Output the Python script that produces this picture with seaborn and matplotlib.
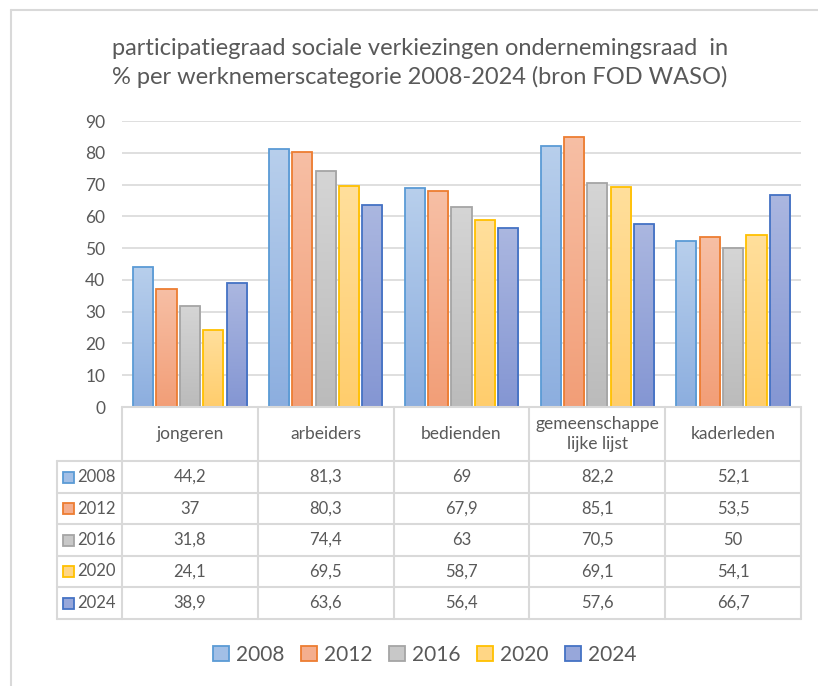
import numpy as np
import pandas as pd
import matplotlib
matplotlib.use("Agg")
import matplotlib.pyplot as plt
import seaborn as sns
from matplotlib.patches import Patch, Rectangle
from matplotlib.colors import LinearSegmentedColormap

# ---------------- data ----------------
categories = ["jongeren", "arbeiders", "bedienden", "gemeenschappelijke lijst", "kaderleden"]
cat_labels = ["jongeren", "arbeiders", "bedienden", "gemeenschappe\nlijke lijst", "kaderleden"]
years = ["2008", "2012", "2016", "2020", "2024"]
v2008 = [44.2, 81.3, 69, 82.2, 52.1]
v2012 = [37, 80.3, 67.9, 85.1, 53.5]
v2016 = [31.8, 74.4, 63, 70.5, 50]
v2020 = [24.1, 69.5, 58.7, 69.1, 54.1]
v2024 = [38.9, 63.6, 56.4, 57.6, 66.7]
series = [v2008, v2012, v2016, v2020, v2024]
yticks = [0, 10, 20, 30, 40, 50, 60, 70, 80, 90]
title = "participatiegraad sociale verkiezingen ondernemingsraad  in\n% per werknemerscategorie 2008-2024 (bron FOD WASO)"

df = pd.DataFrame({
    "categorie": [c for s in series for c in categories],
    "jaar": [y for y, s in zip(years, series) for _ in categories],
    "waarde": [v for s in series for v in s],
})

# ---------------- style ----------------
edge_c = ["#5B9BD5", "#ED7D31", "#A5A5A5", "#FFC000", "#4472C4"]
top_c = ["#B8CFEC", "#F7BFA5", "#D5D5D5", "#FFDF9C", "#ABB7E0"]
bot_c = ["#8CAEDF", "#F29E77", "#BBBBBB", "#FFCD6C", "#8496D3"]
mid_c = ["#A2BFE6", "#F4AE8E", "#C8C8C8", "#FFD685", "#97A7DA"]
txt = "#595959"
grid_c = "#D9D9D9"
FONT = "Lato"

sns.set_theme(style="white")
plt.rcParams["font.family"] = [FONT, "DejaVu Sans"]

W, H = 818, 686
fig = plt.figure(figsize=(W / 100, H / 100), dpi=100)

AX_L, AX_R, AX_T, AX_B = 122, 801, 121, 407
ax = fig.add_axes([AX_L / W, 1 - AX_B / H, (AX_R - AX_L) / W, (AX_B - AX_T) / H])

sns.barplot(data=df, x="categorie", y="waarde", hue="jaar", hue_order=years,
            order=categories, palette=mid_c, width=0.86, gap=0.14,
            errorbar=None, linewidth=1.3, legend=False, ax=ax)

ax.set_xlim(-0.5, len(categories) - 0.5)
ax.set_ylim(0, 90)

# gradient fill for bars
for i, cont in enumerate(ax.containers):
    cmap = LinearSegmentedColormap.from_list(f"g{i}", [bot_c[i], top_c[i]])
    grad = np.linspace(0, 1, 256).reshape(-1, 1)
    for bar in cont:
        x0, y0 = bar.get_x(), bar.get_y()
        w, h = bar.get_width(), bar.get_height()
        im = ax.imshow(grad, extent=[x0, x0 + w, y0, y0 + h], origin="lower",
                       aspect="auto", cmap=cmap, zorder=2, interpolation="bilinear")
        im.set_clip_path(bar)
        bar.set_facecolor("none")
        bar.set_edgecolor(edge_c[i])
        bar.set_zorder(3)

ax.set_xlim(-0.5, len(categories) - 0.5)
ax.set_ylim(0, 90)
ax.set_aspect("auto")
ax.set_yticks(yticks)
ax.set_yticklabels([str(t) for t in yticks], color=txt, fontsize=12.5)
ax.tick_params(axis="y", length=0, pad=12)
ax.set_xticks([])
ax.set_xlabel("")
ax.set_ylabel("")
ax.yaxis.grid(True, color=grid_c, linewidth=1.2)
ax.set_axisbelow(True)
for s in ax.spines.values():
    s.set_visible(False)

# ---------------- data table ----------------
tax = fig.add_axes([0, 0, 1, 1])
tax.set_xlim(0, W)
tax.set_ylim(H, 0)
tax.axis("off")
tax.patch.set_alpha(0)

def cat_px(xd):
    return ax.transData.transform((xd, 0))[0] * 100 / fig.dpi

col_edges = [cat_px(i - 0.5) for i in range(len(categories) + 1)]
col_centers = [cat_px(i) for i in range(len(categories))]
LBL_L = 57
rows = [407, 461, 493, 524, 556, 587, 619]
lw_t = 1.5
tax.plot([col_edges[0], col_edges[-1]], [rows[0], rows[0]], color=grid_c, lw=lw_t)
for y in rows[1:]:
    tax.plot([LBL_L, col_edges[-1]], [y, y], color=grid_c, lw=lw_t)
for x in col_edges:
    tax.plot([x, x], [rows[0], rows[-1]], color=grid_c, lw=lw_t)
tax.plot([LBL_L, LBL_L], [rows[1], rows[-1]], color=grid_c, lw=lw_t)

# header
for xc, lab in zip(col_centers, cat_labels):
    tax.text(xc, (rows[0] + rows[1]) / 2, lab, ha="center", va="center",
             color=txt, fontsize=12.5, linespacing=1.25)

# rows
for r, (yr, vals) in enumerate(zip(years, series)):
    yc = (rows[r + 1] + rows[r + 2]) / 2
    tax.add_patch(Rectangle((63, yc - 5.5), 11, 11, facecolor=mid_c[r],
                            edgecolor=edge_c[r], lw=1.3))
    tax.text(77, yc, yr, ha="left", va="center", color=txt, fontsize=12)
    for xc, v in zip(col_centers, vals):
        s = f"{v:g}".replace(".", ",")
        tax.text(xc, yc, s, ha="center", va="center", color=txt, fontsize=12)

# ---------------- title ----------------
tax.text(420, 63, title, ha="center", va="center", color=txt, fontsize=17,
         linespacing=1.4)

# ---------------- legend ----------------
handles = [Patch(facecolor=mid_c[i], edgecolor=edge_c[i], lw=1.3) for i in range(5)]
fig.legend(handles, years, loc="center", bbox_to_anchor=(425 / W, 1 - 655 / H),
           ncol=5, frameon=False, fontsize=15, labelcolor=txt,
           handlelength=0.75, handleheight=0.75, handletextpad=0.35,
           columnspacing=0.8)

# ---------------- outer border ----------------
tax.plot([11, 11], [10, H], color=grid_c, lw=1.5)
tax.plot([11, W], [10, 10], color=grid_c, lw=1.5)

fig.savefig("out.png", dpi=100, facecolor="white")
